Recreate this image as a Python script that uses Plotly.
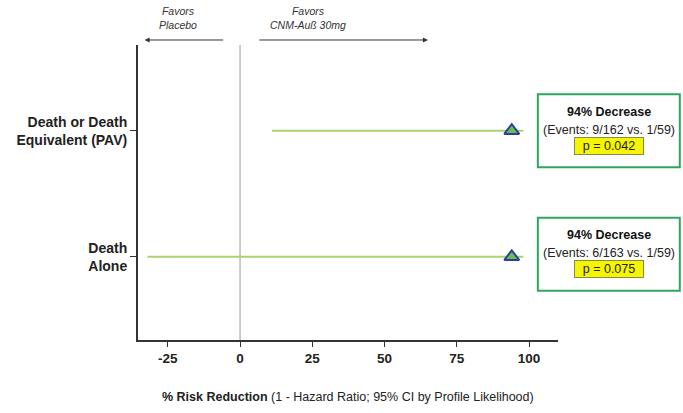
import plotly.graph_objects as go

# Endpoints (top to bottom) and their estimates
endpoints = ["Death or Death<br>Equivalent (PAV)", "Death<br>Alone"]
row_pos = [1, 0]
point_est = [94, 94]          # % risk reduction
ci_low = [11, -32]
ci_high = [98, 98]
events = ["(Events: 9/162 vs. 1/59)", "(Events: 6/163 vs. 1/59)"]
p_values = ["p = 0.042", "p = 0.075"]
summaries = ["94% Decrease", "94% Decrease"]

x_ticks = [-25, 0, 25, 50, 75, 100]

FONT = "Liberation Sans, Arial, sans-serif"
GREEN_LINE = "#a9d46f"
BOX_GREEN = "#2ea65f"

fig = go.Figure()

# Confidence-interval bars
for y, lo, hi in zip(row_pos, ci_low, ci_high):
    fig.add_trace(go.Scatter(
        x=[lo, hi], y=[y, y], mode="lines",
        line=dict(color=GREEN_LINE, width=2), hoverinfo="skip", showlegend=False))

# Point estimates
fig.add_trace(go.Scatter(
    x=point_est, y=row_pos, mode="markers",
    marker=dict(symbol="triangle-up", size=13, color="#6cbf4a",
                line=dict(color="#2f3fa0", width=2)),
    showlegend=False))

# Zero reference line
shapes = [dict(type="line", xref="x", yref="paper", x0=0, x1=0, y0=0, y1=1,
               line=dict(color="#9a9a9a", width=1), layer="below")]

annotations = []
for y, summ, ev, p in zip(row_pos, summaries, events, p_values):
    yc = y + (0.0 if y == 1 else 0.02)
    shapes.append(dict(type="rect", xref="paper", yref="y",
                       x0=0.952, x1=1.29, y0=yc - 0.29, y1=yc + 0.29,
                       line=dict(color=BOX_GREEN, width=2), fillcolor="white",
                       layer="above"))
    common = dict(xref="paper", yref="y", x=1.121, y=yc, showarrow=False,
                  xanchor="center", yanchor="middle")
    annotations.append(dict(common, yshift=19, text=f"<b>{summ}</b>",
                            font=dict(family=FONT, size=12.5, color="#111")))
    annotations.append(dict(common, yshift=1, text=ev,
                            font=dict(family=FONT, size=12.5, color="#222")))
    annotations.append(dict(common, yshift=-15, text=p, bgcolor="#f5f500",
                            bordercolor="#8a8a50", borderwidth=1, width=66,
                            font=dict(family=FONT, size=12.5, color="#222")))

# Direction arrows above the plot
annotations.append(dict(xref="x", yref="paper", x=-33, y=1.017, ax=80, ay=0,
                        text="", showarrow=True, arrowhead=2, arrowsize=1,
                        arrowwidth=1, arrowcolor="#333"))
annotations.append(dict(xref="x", yref="paper", x=65, y=1.017, ax=-170, ay=0,
                        text="", showarrow=True, arrowhead=2, arrowsize=1,
                        arrowwidth=1, arrowcolor="#333"))
annotations.append(dict(xref="x", yref="paper", x=-21.5, y=1.09,
                        xanchor="center", yanchor="middle",
                        text="<i>Favors<br>Placebo</i>", showarrow=False,
                        font=dict(family=FONT, size=10.5, color="#333")))
annotations.append(dict(xref="x", yref="paper", x=23.5, y=1.09,
                        xanchor="center", yanchor="middle",
                        text="<i>Favors<br>CNM-Auß 30mg</i>", showarrow=False,
                        font=dict(family=FONT, size=10.5, color="#333")))

# Axis title
annotations.append(dict(xref="paper", yref="paper", x=0.5, y=-0.193,
                        xanchor="center", yanchor="middle",
                        text="<b>% Risk Reduction</b> (1 - Hazard Ratio; 95% CI by Profile Likelihood)",
                        showarrow=False,
                        font=dict(family=FONT, size=12.5, color="#222")))

fig.update_layout(
    width=683, height=413,
    margin=dict(l=138, r=125, t=45, b=73),
    paper_bgcolor="white", plot_bgcolor="white",
    shapes=shapes, annotations=annotations,
    font=dict(family=FONT),
)

fig.update_xaxes(
    range=[-35.3, 110], tickvals=x_ticks, ticktext=[str(t) for t in x_ticks],
    showgrid=False, zeroline=False, showline=True, linecolor="#333", linewidth=2,
    ticks="outside", ticklen=5, tickcolor="#333", tickwidth=1,
    tickfont=dict(family=FONT, size=13.5, color="#222", weight="bold"),
)
fig.update_yaxes(
    range=[-0.66, 1.68], tickvals=row_pos, ticktext=endpoints,
    showgrid=False, zeroline=False, showline=True, linecolor="#333", linewidth=2,
    ticks="outside", ticklen=6, tickcolor="#333", tickwidth=1,
    tickfont=dict(family=FONT, size=14, color="#222", weight="bold"),
)

fig.write_html("out.html")
